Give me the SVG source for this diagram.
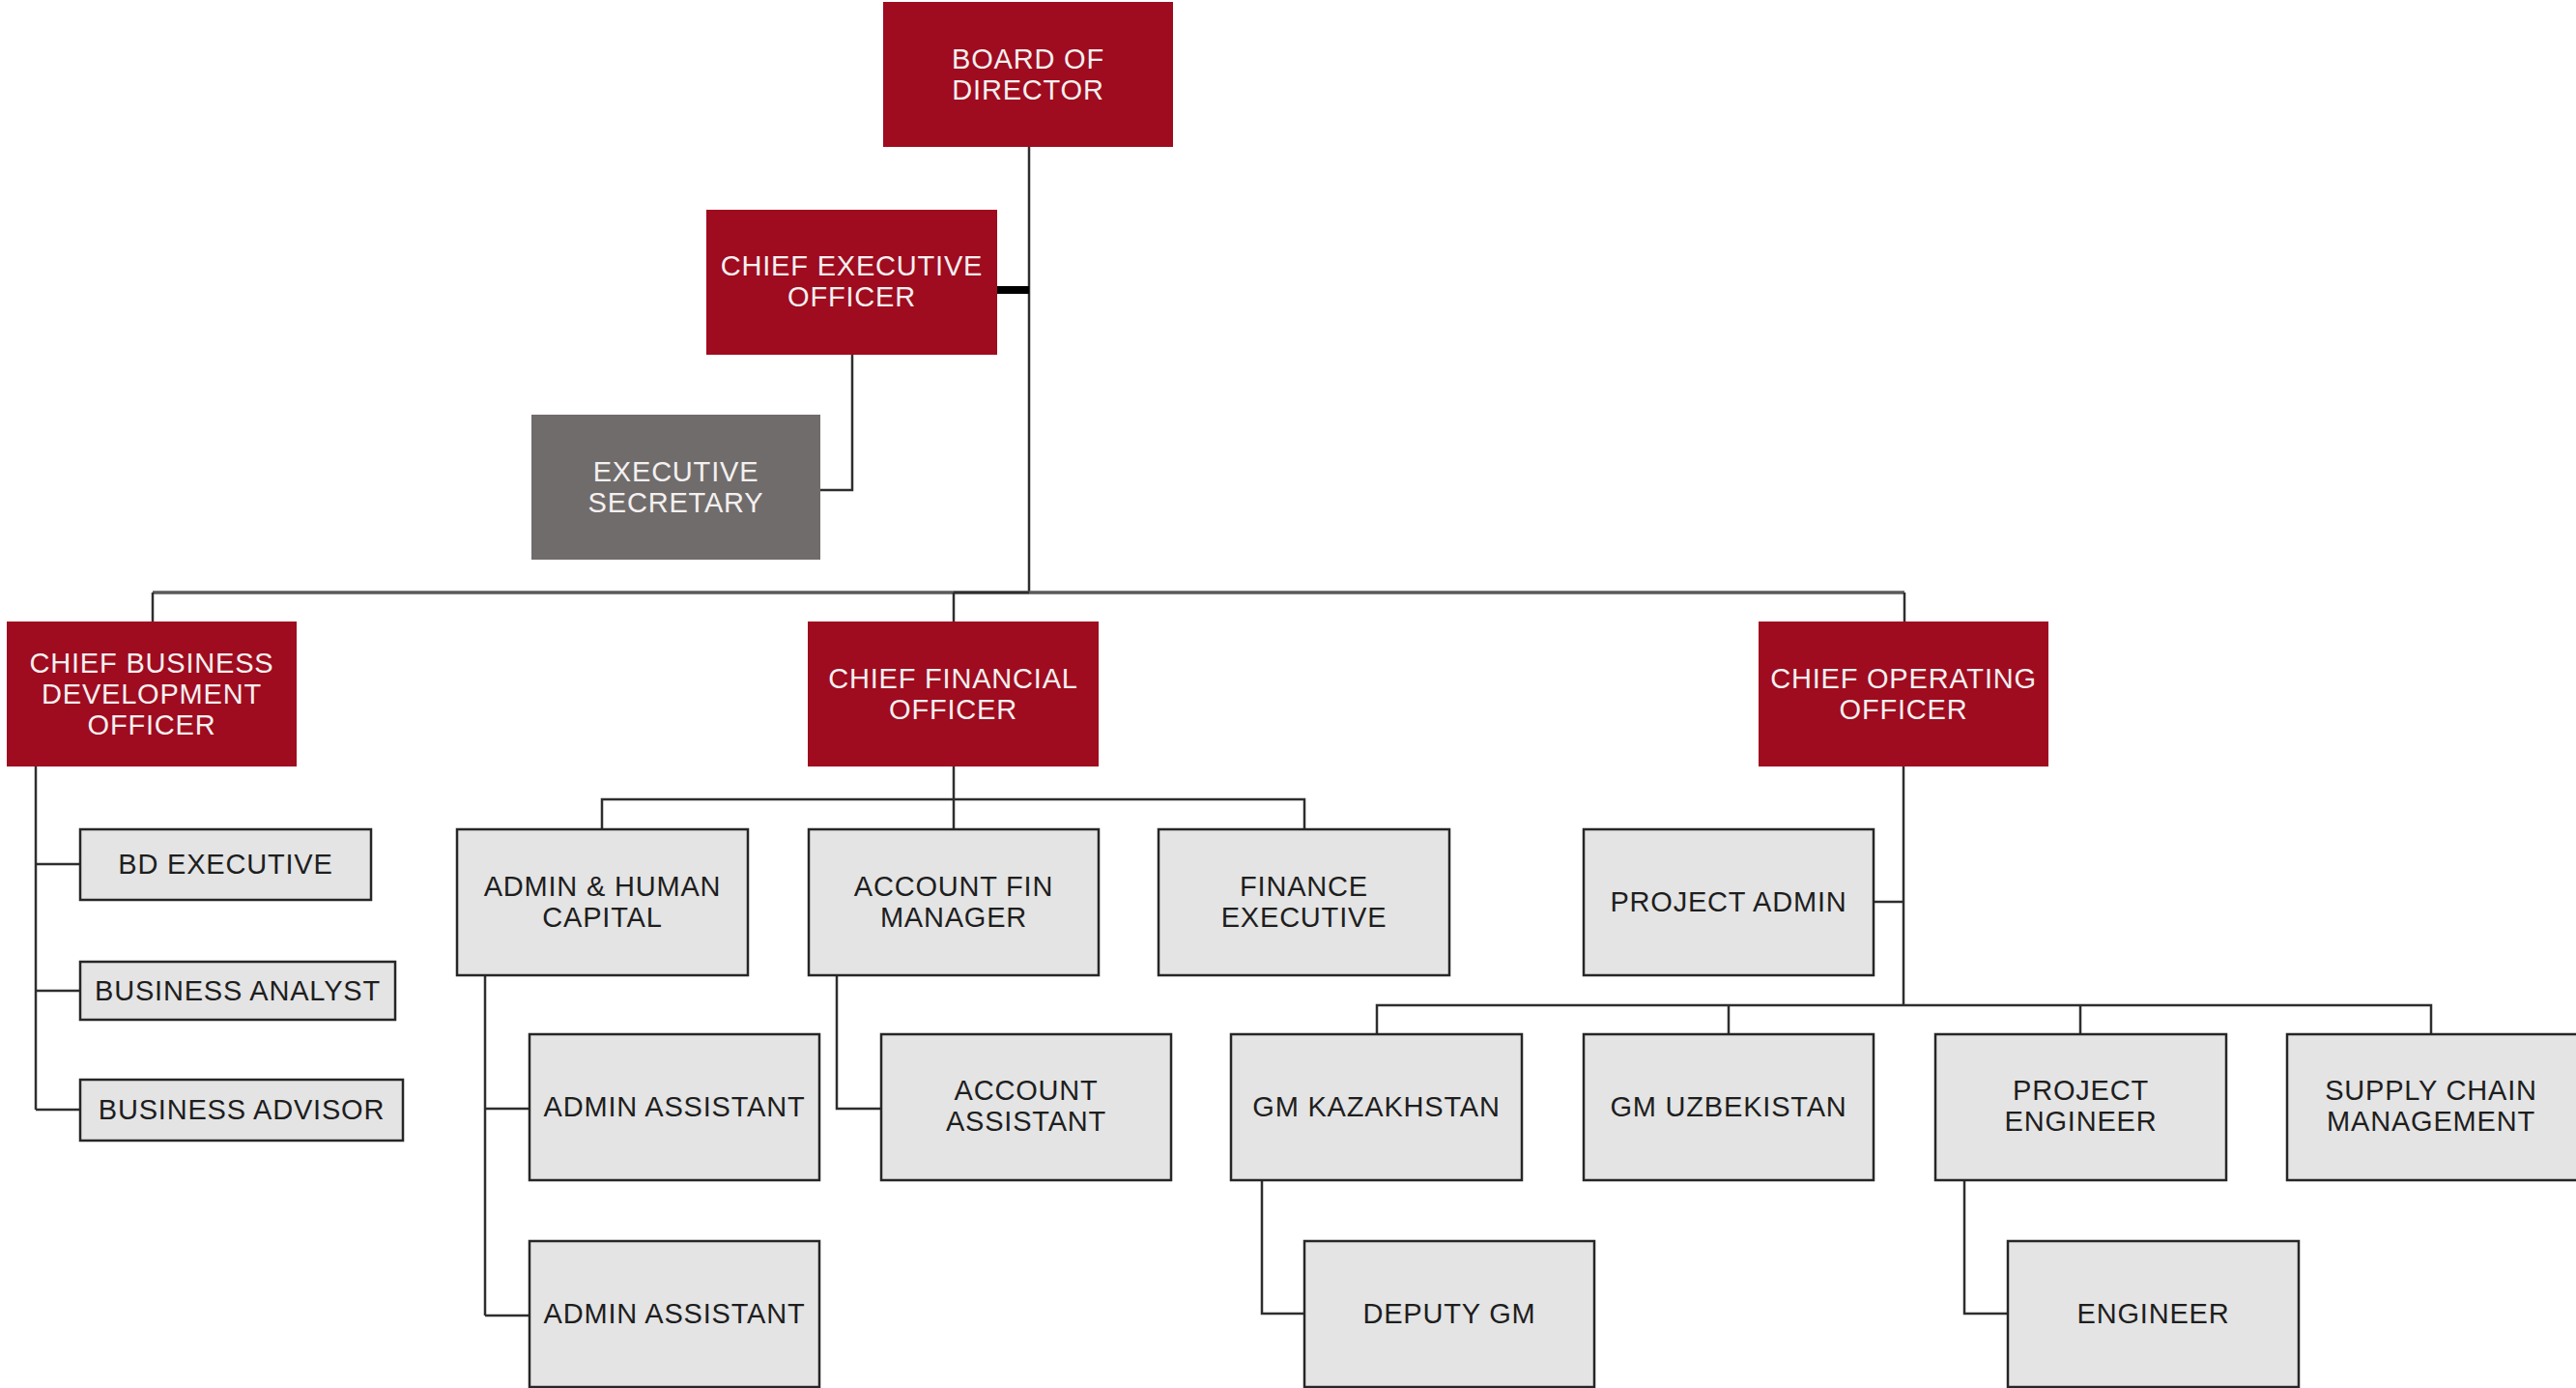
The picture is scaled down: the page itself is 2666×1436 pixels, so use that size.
<svg xmlns="http://www.w3.org/2000/svg" width="2666" height="1436" viewBox="0 0 2666 1436">
<style>
.red{fill:#9F0B1F}
.gry{fill:#706C6B}
.lt{fill:#E4E4E4;stroke:#262626;stroke-width:2.5}
.wt{fill:#F4F0F0;font-family:"Liberation Sans",Arial,sans-serif;font-size:29px;letter-spacing:0.8px;text-anchor:middle}
.dk{fill:#1E1E1E;font-family:"Liberation Sans",Arial,sans-serif;font-size:29px;letter-spacing:0.8px;text-anchor:middle}
.ln{fill:none;stroke:#2E2E2E;stroke-width:2.5}
.ln2{fill:none;stroke:#5A5A5A;stroke-width:3.5}
</style>
<rect width="2666" height="1436" fill="#FFFFFF"/>
<g id="connectors">
<path class="ln" d="M1065 152V613"/>
<path d="M1030 300H1065" fill="none" stroke="#000" stroke-width="8"/>
<path class="ln" d="M882 367V507H849"/>
<path class="ln2" d="M158 613H1971"/>
<path class="ln" d="M987 613H1065"/>
<path class="ln" d="M158 613V643M987 613V643M1971 613V643"/>
<path class="ln" d="M37 793V1148M37 894H83M37 1025H83M37 1148H83"/>
<path class="ln" d="M987 793V858M623 858V827H1350V858"/>
<path class="ln" d="M502 1009V1361M502 1147H548M502 1361H548"/>
<path class="ln" d="M866 1009V1147H912"/>
<path class="ln" d="M1970 793V1040M1939 933H1970M1425 1070V1040H2516V1070M1789 1040V1070M2153 1040V1070"/>
<path class="ln" d="M1306 1221V1359H1350"/>
<path class="ln" d="M2033 1221V1359H2078"/>
</g>
<g id="board"><rect class="red" x="914" y="2" width="300" height="150"/><text class="wt" x="1064" y="71">BOARD OF</text><text class="wt" x="1064" y="103">DIRECTOR</text></g>
<g id="ceo"><rect class="red" x="731" y="217" width="301" height="150"/><text class="wt" x="881.5" y="285">CHIEF EXECUTIVE</text><text class="wt" x="881.5" y="317">OFFICER</text></g>
<g id="secretary"><rect class="gry" x="550" y="429" width="299" height="150"/><text class="wt" x="699.5" y="498">EXECUTIVE</text><text class="wt" x="699.5" y="530">SECRETARY</text></g>
<g id="cbdo"><rect class="red" x="7" y="643" width="300" height="150"/><text class="wt" x="157" y="696">CHIEF BUSINESS</text><text class="wt" x="157" y="728">DEVELOPMENT</text><text class="wt" x="157" y="760">OFFICER</text></g>
<g id="cfo"><rect class="red" x="836" y="643" width="301" height="150"/><text class="wt" x="986.5" y="712">CHIEF FINANCIAL</text><text class="wt" x="986.5" y="744">OFFICER</text></g>
<g id="coo"><rect class="red" x="1820" y="643" width="300" height="150"/><text class="wt" x="1970" y="712">CHIEF OPERATING</text><text class="wt" x="1970" y="744">OFFICER</text></g>
<g id="bd-executive"><rect class="lt" x="83" y="858" width="301" height="73"/><text class="dk" x="233.5" y="904">BD EXECUTIVE</text></g>
<g id="business-analyst"><rect class="lt" x="83" y="995" width="326" height="60"/><text class="dk" x="246" y="1035">BUSINESS ANALYST</text></g>
<g id="business-advisor"><rect class="lt" x="83" y="1117" width="334" height="63"/><text class="dk" x="250" y="1158">BUSINESS ADVISOR</text></g>
<g id="admin-hc"><rect class="lt" x="473" y="858" width="301" height="151"/><text class="dk" x="623.5" y="927">ADMIN &amp; HUMAN</text><text class="dk" x="623.5" y="959">CAPITAL</text></g>
<g id="acct-fin-mgr"><rect class="lt" x="837" y="858" width="300" height="151"/><text class="dk" x="987" y="927">ACCOUNT FIN</text><text class="dk" x="987" y="959">MANAGER</text></g>
<g id="finance-exec"><rect class="lt" x="1199" y="858" width="301" height="151"/><text class="dk" x="1349.5" y="927">FINANCE</text><text class="dk" x="1349.5" y="959">EXECUTIVE</text></g>
<g id="project-admin"><rect class="lt" x="1639" y="858" width="300" height="151"/><text class="dk" x="1789" y="943">PROJECT ADMIN</text></g>
<g id="admin-assistant-1"><rect class="lt" x="548" y="1070" width="300" height="151"/><text class="dk" x="698" y="1155">ADMIN ASSISTANT</text></g>
<g id="account-assistant"><rect class="lt" x="912" y="1070" width="300" height="151"/><text class="dk" x="1062" y="1138">ACCOUNT</text><text class="dk" x="1062" y="1170">ASSISTANT</text></g>
<g id="gm-kazakhstan"><rect class="lt" x="1274" y="1070" width="301" height="151"/><text class="dk" x="1424.5" y="1155">GM KAZAKHSTAN</text></g>
<g id="gm-uzbekistan"><rect class="lt" x="1639" y="1070" width="300" height="151"/><text class="dk" x="1789" y="1155">GM UZBEKISTAN</text></g>
<g id="project-engineer"><rect class="lt" x="2003" y="1070" width="301" height="151"/><text class="dk" x="2153.5" y="1138">PROJECT</text><text class="dk" x="2153.5" y="1170">ENGINEER</text></g>
<g id="supply-chain"><rect class="lt" x="2367" y="1070" width="302" height="151"/><text class="dk" x="2516" y="1138">SUPPLY CHAIN</text><text class="dk" x="2516" y="1170">MANAGEMENT</text></g>
<g id="admin-assistant-2"><rect class="lt" x="548" y="1284" width="300" height="151"/><text class="dk" x="698" y="1369">ADMIN ASSISTANT</text></g>
<g id="deputy-gm"><rect class="lt" x="1350" y="1284" width="300" height="151"/><text class="dk" x="1500" y="1369">DEPUTY GM</text></g>
<g id="engineer"><rect class="lt" x="2078" y="1284" width="301" height="151"/><text class="dk" x="2228.5" y="1369">ENGINEER</text></g>
</svg>
